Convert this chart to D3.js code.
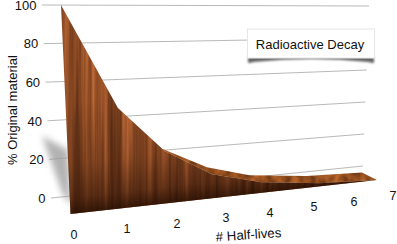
<!DOCTYPE html>
<html><head><meta charset="utf-8">
<script src="https://cdn.jsdelivr.net/npm/d3@7"></script>
<style>html,body{margin:0;background:#fff}svg{display:block}text{font-family:"Liberation Sans",Arial,sans-serif;fill:#111}</style>
</head><body><div id="c"></div>
<script>
const halfLives=[0,1,2,3,4,5,6,7];
const percent=[100,48,25,11.5,5,1.5,0];
const gridValues=[0,20,40,60,80,100];
const chartTitle="Radioactive Decay";
const yTitle="% Original material";
const xTitle="# Half-lives";
const W=397,H=244;
const svg=d3.select("#c").append("svg").attr("width",W).attr("height",H);
// projected back wall
const yL=d3.scaleLinear().domain([0,100]).range([198,5]);
const yR=d3.scaleLinear().domain([0,100]).range([166,6]);
const xL=d3.scaleLinear().domain([0,100]).range([51,42]);
const xR=d3.scaleLinear().domain([0,100]).range([363,369]);
// front face
const fx=d3.scaleLinear().domain([0,1,2,3,4,5,6]).range([70.5,122.5,167,213,262,320,377]);
const fb=d3.scaleLinear().domain([70.5,377]).range([214,180]);
const fh=d3.scaleLinear().domain([0,100]).range([0,209]);
const lean=d3.scaleLinear().domain([0,100]).range([0,-9.5]);
const pt=(i,v)=>[fx(i)+lean(v),fb(fx(i))-fh(v)];
// depth of the top surface
const depthX=d3.scaleLinear().domain([2,3,4,6]).range([-2,-5,-12,-15]);
const depthY=d3.scaleLinear().domain([2,3,4,6]).range([-2,-7,-7,-7.5]);
const defs=svg.append("defs");
const wood=defs.append("filter").attr("id","wood").attr("x",0).attr("y",0).attr("width",1).attr("height",1).attr("color-interpolation-filters","sRGB");
wood.append("feTurbulence").attr("type","fractalNoise").attr("baseFrequency",".2 .004").attr("numOctaves",3).attr("seed",11);
wood.append("feColorMatrix").attr("type","matrix").attr("values",".6 0 0 0 .28  .36 0 0 0 .13  .2 0 0 0 .05  0 0 0 0 1");
const wood2=defs.append("filter").attr("id","wood2").attr("x",0).attr("y",0).attr("width",1).attr("height",1).attr("color-interpolation-filters","sRGB");
wood2.append("feTurbulence").attr("type","fractalNoise").attr("baseFrequency",".12 .1").attr("numOctaves",2).attr("seed",7);
wood2.append("feColorMatrix").attr("type","matrix").attr("values",".6 0 0 0 .28  .38 0 0 0 .12  .2 0 0 0 .02  0 0 0 0 1");
const shade=defs.append("linearGradient").attr("id","shade").attr("gradientUnits","userSpaceOnUse").attr("x1",90).attr("y1",100).attr("x2",102).attr("y2",211);
[[0,"#1c0800",0],[.55,"#1c0800",.22],[.85,"#1c0800",.5],[1,"#1c0800",.82]].forEach(s=>shade.append("stop").attr("offset",s[0]).attr("stop-color",s[1]).attr("stop-opacity",s[2]));
defs.append("filter").attr("id","blur").attr("x","-80%").attr("y","-50%").attr("width","260%").attr("height","200%").append("feGaussianBlur").attr("stdDeviation",3.2);
defs.append("filter").attr("id","blur2").attr("x","-20%").attr("y","-100%").attr("width","140%").attr("height","300%").append("feGaussianBlur").attr("stdDeviation",.9);
// gridlines
svg.append("g").selectAll("line").data(gridValues).join("line")
 .attr("x1",d=>xL(d)).attr("y1",d=>yL(d)).attr("x2",d=>xR(d)).attr("y2",d=>yR(d))
 .attr("stroke","#b9b9b9").attr("stroke-width",1);
// y labels
svg.append("g").selectAll("text").data(gridValues).join("text")
 .attr("x",d=>xL(d)-5.5).attr("y",d=>Math.max(yL(d)+4.7,10.4)).attr("text-anchor","end").attr("font-size",13).text(d=>d);
// soft shadow
svg.append("path").attr("d",d3.line()([[42,136],[68,150],[71,206],[62,192]])+"Z").attr("fill","#999").attr("opacity",.75).attr("filter","url(#blur)");
const line=d3.line();
const idx=d3.range(percent.length);
const frontTop=idx.map(i=>pt(i,percent[i]));
const frontPath=line(frontTop)+"L"+pt(0,0)+"Z";
defs.append("clipPath").attr("id","frontClip").append("path").attr("d",frontPath);
const ribIdx=idx.slice(2);
const ribFront=ribIdx.map(i=>pt(i,percent[i]));
const ribBack=ribIdx.map(i=>{const p=pt(i,percent[i]);return [p[0]+depthX(i),p[1]+depthY(i)];});
defs.append("clipPath").attr("id","ribClip").append("path").attr("d",line(ribBack.concat(ribFront.slice().reverse()))+"Z");
svg.append("g").attr("clip-path","url(#ribClip)").append("rect").attr("x",150).attr("y",130).attr("width",235).attr("height",70).attr("filter","url(#wood2)");
const frontG=svg.append("g").attr("clip-path","url(#frontClip)");
frontG.append("rect").attr("x",50).attr("y",0).attr("width",335).attr("height",220).attr("filter","url(#wood)");
frontG.append("rect").attr("x",50).attr("y",0).attr("width",335).attr("height",220).attr("fill","url(#shade)");
// x labels
const tickX=d3.scaleLinear().domain([0,1,2,3,4,5,6,7]).range([74,127,177,226,270,314,354,393]);
const tickY=d3.scaleLinear().domain([0,7]).range([239,200]);
svg.append("g").selectAll("text").data(halfLives).join("text")
 .attr("x",d=>tickX(d)).attr("y",d=>tickY(d)).attr("text-anchor","middle").attr("font-size",12.5).text(d=>d);
// axis titles
svg.append("text").attr("transform","translate(17,165) rotate(-90)").attr("font-size",13).text(yTitle);
svg.append("text").attr("transform","translate(216,241.5) rotate(-4)").attr("font-size",13.3).text(xTitle);
// callout
const g=svg.append("g");
g.append("path").attr("d","M248,57 L374,57 L374,63 Q372,63 368,62 Q312,56 254,62 Q250,63 248,63Z").attr("fill","#666").attr("filter","url(#blur2)");
g.append("rect").attr("x",247.5).attr("y",29).attr("width",127).attr("height",29).attr("fill","#fff").attr("stroke","#e6e6e6").attr("stroke-width",1);
g.append("text").attr("x",310).attr("y",48.5).attr("text-anchor","middle").attr("font-size",13).text(chartTitle);
</script></body></html>
